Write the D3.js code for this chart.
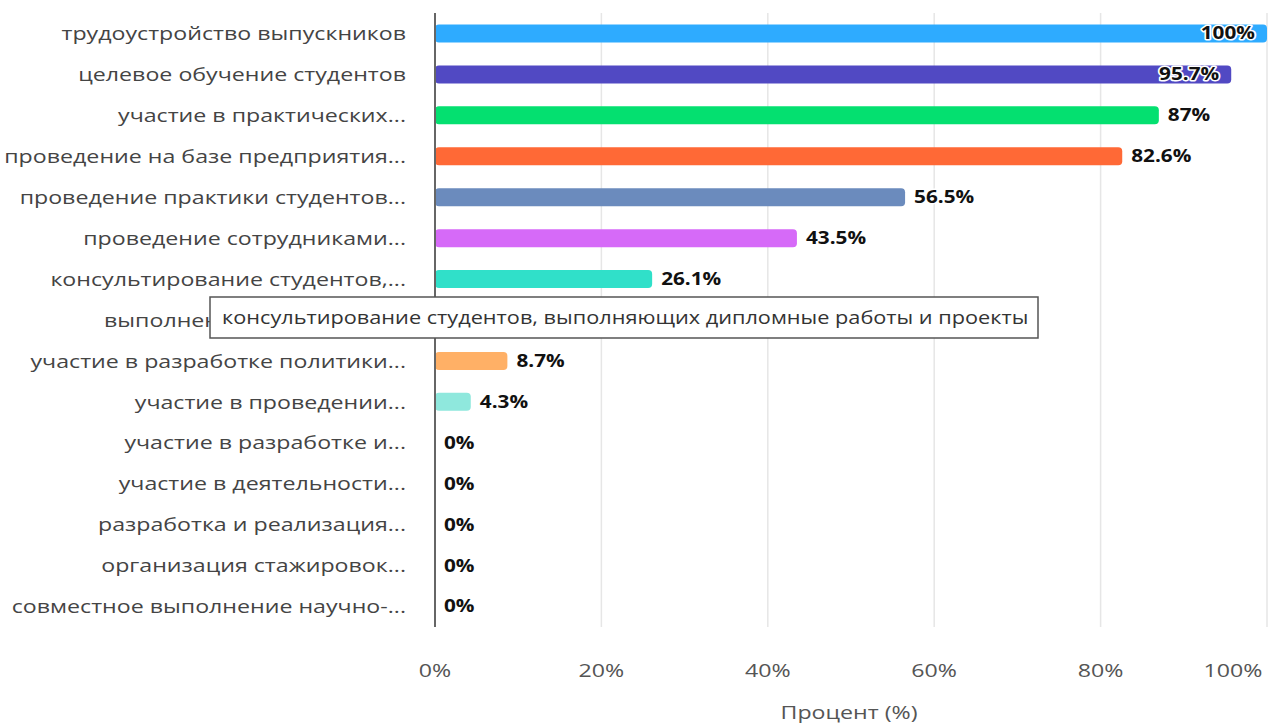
<!DOCTYPE html>
<html><head><meta charset="utf-8">
<script src="https://cdn.jsdelivr.net/npm/d3@7/dist/d3.min.js"></script>
<style>body{margin:0;background:#fff;}svg{display:block;}</style>
</head><body>
<svg id="c" width="1268" height="724"></svg>
<script>
const categories = [
  "трудоустройство выпускников",
  "целевое обучение студентов",
  "участие в практических...",
  "проведение на базе предприятия...",
  "проведение практики студентов...",
  "проведение сотрудниками...",
  "консультирование студентов,...",
  "выполнение совместных...",
  "участие в разработке политики...",
  "участие в проведении...",
  "участие в разработке и...",
  "участие в деятельности...",
  "разработка и реализация...",
  "организация стажировок...",
  "совместное выполнение научно-..."
];
const values = [100, 95.7, 87, 82.6, 56.5, 43.5, 26.1, 17.4, 8.7, 4.3, 0, 0, 0, 0, 0];
const colors = ["#2eabff","#5149c3","#04e070","#ff6936","#6b8bbd","#d66af8","#30e0c9","#f2c94c","#ffb066","#8fe8dd","#aaa","#aaa","#aaa","#aaa","#aaa"];
const xTicks = [0, 20, 40, 60, 80, 100];
const xTitle = "Процент (%)";
const tooltipText = "консультирование студентов, выполняющих дипломные работы и проекты";
const hiddenRow = 7; // row covered by the tooltip

const svg = d3.select("#c");
const font = "'Open Sans', 'Noto Sans', sans-serif";
const SX = 1.22; // horizontal stretch of text seen in the reference
const mLeft = 435, mRight = 1267, mTop = 13, mBottom = 627;
const x = d3.scaleLinear().domain([0, 100]).range([mLeft, mRight]);
const y = d3.scaleBand().domain(categories).range([mTop, mBottom]).paddingInner(0.56).paddingOuter(0.28);

function stext(parent, px, py, txt, opts) {
  const g = parent.append("g").attr("transform", `translate(${px},${py}) scale(${SX},1)`);
  const t = g.append("text").attr("x", 0).attr("y", 0).attr("dy", "0.35em")
    .attr("font-family", font).attr("font-size", opts.size).attr("fill", opts.fill)
    .attr("text-anchor", opts.anchor || "start").text(txt);
  if (opts.bold) t.attr("font-weight", "bold");
  if (opts.halo) t.attr("stroke", "#fff").attr("stroke-width", 3).attr("paint-order", "stroke").attr("stroke-linejoin", "round");
  return {g, t};
}

// grid
svg.append("g").selectAll("line").data(xTicks.slice(1)).join("line")
  .attr("x1", d => x(d)).attr("x2", d => x(d)).attr("y1", mTop).attr("y2", mBottom)
  .attr("stroke", "#e6e6e6").attr("stroke-width", 1.5);

// bars
const bh = y.bandwidth();
svg.append("g").selectAll("rect").data(values).join("rect")
  .attr("x", mLeft).attr("y", (d, i) => y(categories[i]))
  .attr("width", d => Math.max(0, x(d) - mLeft)).attr("height", bh)
  .attr("rx", d => d > 0 ? 4 : 0)
  .attr("fill", (d, i) => colors[i])
  .attr("display", d => d > 0 ? null : "none");

// y axis line
svg.append("line").attr("x1", mLeft).attr("x2", mLeft).attr("y1", mTop).attr("y2", mBottom)
  .attr("stroke", "#666").attr("stroke-width", 2);

// category labels
const cl = svg.append("g");
categories.forEach((c, i) => {
  stext(cl, 406, y(c) + bh / 2, c, {size: 19, fill: "#444", anchor: "end"});
});

// value labels
const vl = svg.append("g");
values.forEach((v, i) => {
  if (i === hiddenRow) return; // fully covered by the tooltip in the reference
  const cy = y(categories[i]) + bh / 2;
  const s = stext(vl, 0, cy, d3.format("~")(v) + "%", {size: 17, fill: "#111", bold: true, halo: true});
  const w = s.t.node().getComputedTextLength() * SX;
  const xe = x(v) + 9;
  if (xe + w > 1258) {
    s.t.attr("text-anchor", "end");
    s.g.attr("transform", `translate(${x(v) - 12},${cy}) scale(${SX},1)`);
  } else {
    s.g.attr("transform", `translate(${xe},${cy}) scale(${SX},1)`);
  }
});

// x tick labels
const tl = svg.append("g");
xTicks.forEach(d => {
  stext(tl, d === 100 ? x(d) - 34 : x(d), 670, d + "%", {size: 19, fill: "#555", anchor: "middle"});
});

stext(svg, (mLeft + mRight) / 2 - 2, 712, xTitle, {size: 19, fill: "#555", anchor: "middle"});

// tooltip
const tg = svg.append("g");
tg.append("rect").attr("x", 210).attr("y", 297).attr("width", 828).attr("height", 41)
  .attr("fill", "#fff").attr("stroke", "#555").attr("stroke-width", 1.5);
stext(tg, 222, 318, tooltipText, {size: 17.8, fill: "#333"});
</script>
</body></html>
